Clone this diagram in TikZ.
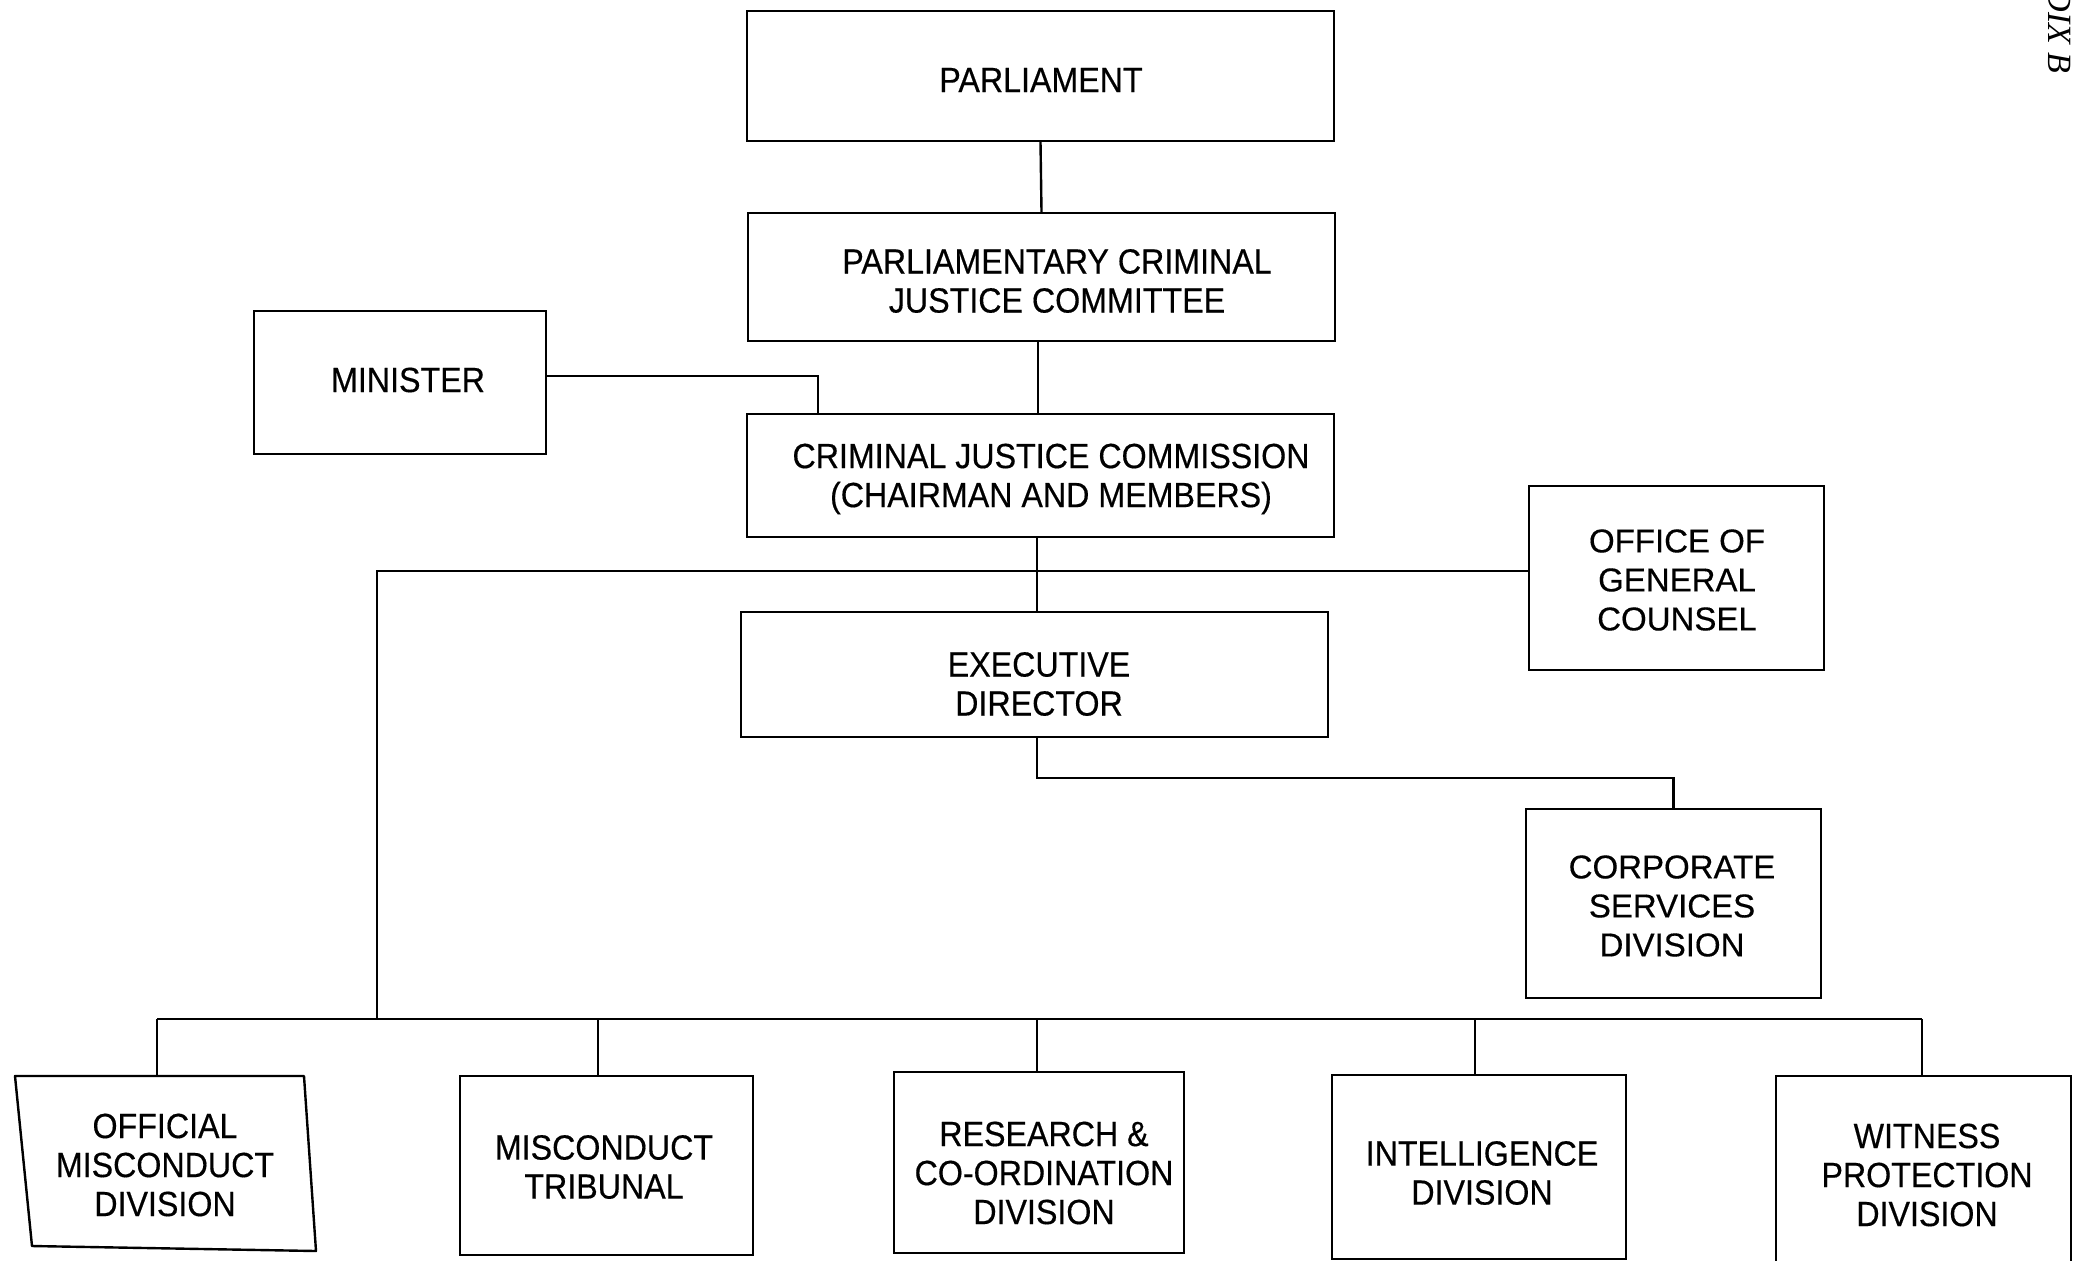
\documentclass[tikz,border=0pt]{standalone}
\usepackage{fontspec}
\setmainfont{Liberation Sans}[FakeBold=0.4]
\newfontfamily\narrowfont{Liberation Sans}[FakeStretch=0.92,FakeBold=0.4]
\newfontfamily\widefont{Liberation Sans}[FakeBold=0.4]
\newfontfamily\serifit{Liberation Serif}
\begin{document}
\begin{tikzpicture}[x=0.5pt,y=-0.5pt,
  box/.style={draw=black,line width=1.2pt,inner sep=0pt},
  txt/.style={align=center,inner sep=0pt,
    font=\narrowfont\fontsize{17.5}{19.5}\selectfont},
  txtw/.style={txt,font=\widefont\fontsize{16.5}{19.5}\selectfont},
  conn/.style={line width=1.2pt,draw=black}]
\useasboundingbox (0,0) rectangle (2083,1260);
% boxes
\node[box,minimum width=293.5pt,minimum height=65pt] (parl) at (1040.5,76) {};
\node[box,minimum width=293.5pt,minimum height=64pt] (pcjc) at (1041.5,277) {};
\node[box,minimum width=146pt,minimum height=71.5pt] (min) at (400,382.5) {};
\node[box,minimum width=293.5pt,minimum height=61.5pt] (cjc) at (1040.5,475.5) {};
\node[box,minimum width=293.5pt,minimum height=62.5pt] (exec) at (1034.5,674.5) {};
\node[box,minimum width=147.5pt,minimum height=92pt] (ogc) at (1676.5,578) {};
\node[box,minimum width=147.5pt,minimum height=94.5pt] (corp) at (1673.5,903.5) {};
\node[inner sep=0pt,minimum width=145pt,minimum height=87pt] (omd) at (165,1163) {};
\draw[conn,line join=round] (15,1076) -- (304,1076) -- (316,1251) -- (32,1246) -- cycle;
\node[box,minimum width=146.5pt,minimum height=89.5pt] (mt) at (606.5,1165.5) {};
\node[box,minimum width=145pt,minimum height=90.5pt] (rc) at (1039,1162.5) {};
\node[box,minimum width=147pt,minimum height=92pt] (intel) at (1479,1167) {};
\node[box,minimum width=147.5pt,minimum height=96pt] (wit) at (1923.5,1172) {};
% texts
\node[txt] (parlT) at (1041,80) {PARLIAMENT};
\node[txt] (pcjcT) at (1057,281) {PARLIAMENTARY CRIMINAL\\JUSTICE COMMITTEE};
\node[txt] (minT) at (408,380) {MINISTER};
\node[txt] (cjcT) at (1051,479) {CRIMINAL JUSTICE COMMISSION\\(CHAIRMAN AND MEMBERS)};
\node[txt] (execT) at (1039,684) {EXECUTIVE\\DIRECTOR};
\node[txtw] (ogcT) at (1677,580) {OFFICE OF\\GENERAL\\COUNSEL};
\node[txtw] (corpT) at (1672,906) {CORPORATE\\SERVICES\\DIVISION};
\node[txt] (omdT) at (165,1165) {OFFICIAL\\MISCONDUCT\\DIVISION};
\node[txt] (mtT) at (604,1167) {MISCONDUCT\\TRIBUNAL};
\node[txt] (rcT) at (1044,1173) {RESEARCH \&\\CO-ORDINATION\\DIVISION};
\node[txt] (intelT) at (1482,1173) {INTELLIGENCE\\DIVISION};
\node[txt] (witT) at (1927,1175) {WITNESS\\PROTECTION\\DIVISION};
% corner label
\node[font=\serifit\itshape\fontsize{17}{19}\selectfont,rotate=-90,anchor=east,inner sep=0pt] (app) at (2060,74) {DIX B};
% connectors
\draw[conn] (parl.south) -- (pcjc.north);
\draw[conn] (pcjc.south -| 1038,0) -- (cjc.north -| 1038,0);
\coordinate (mk) at (818,376);
\draw[conn] (min.east |- mk) -- (mk) -- (mk |- cjc.north);
\coordinate (hub) at (1037,571);
\coordinate (lft) at (377,571);
\coordinate (bus) at (377,1019);
\draw[conn] (cjc.south -| hub) -- (exec.north -| hub);
\draw[conn] (ogc.west |- hub) -- (lft) -- (bus);
\coordinate (ec) at (1037,778);
\draw[conn] (exec.south -| ec) -- (ec) -- (corp.north |- ec) -- (corp.north);
\coordinate (bl) at (157,1019);
\coordinate (br) at (1922,1019);
\draw[conn] (bl) -- (br);
\draw[conn] (bl) -- (bl |- omd.north);
\draw[conn] (598,1019) -- (598,1076);
\draw[conn] (1037,1019) -- (1037,1072);
\draw[conn] (1475,1019) -- (1475,1075);
\draw[conn] (br) -- (br |- wit.north);
\end{tikzpicture}
\end{document}
